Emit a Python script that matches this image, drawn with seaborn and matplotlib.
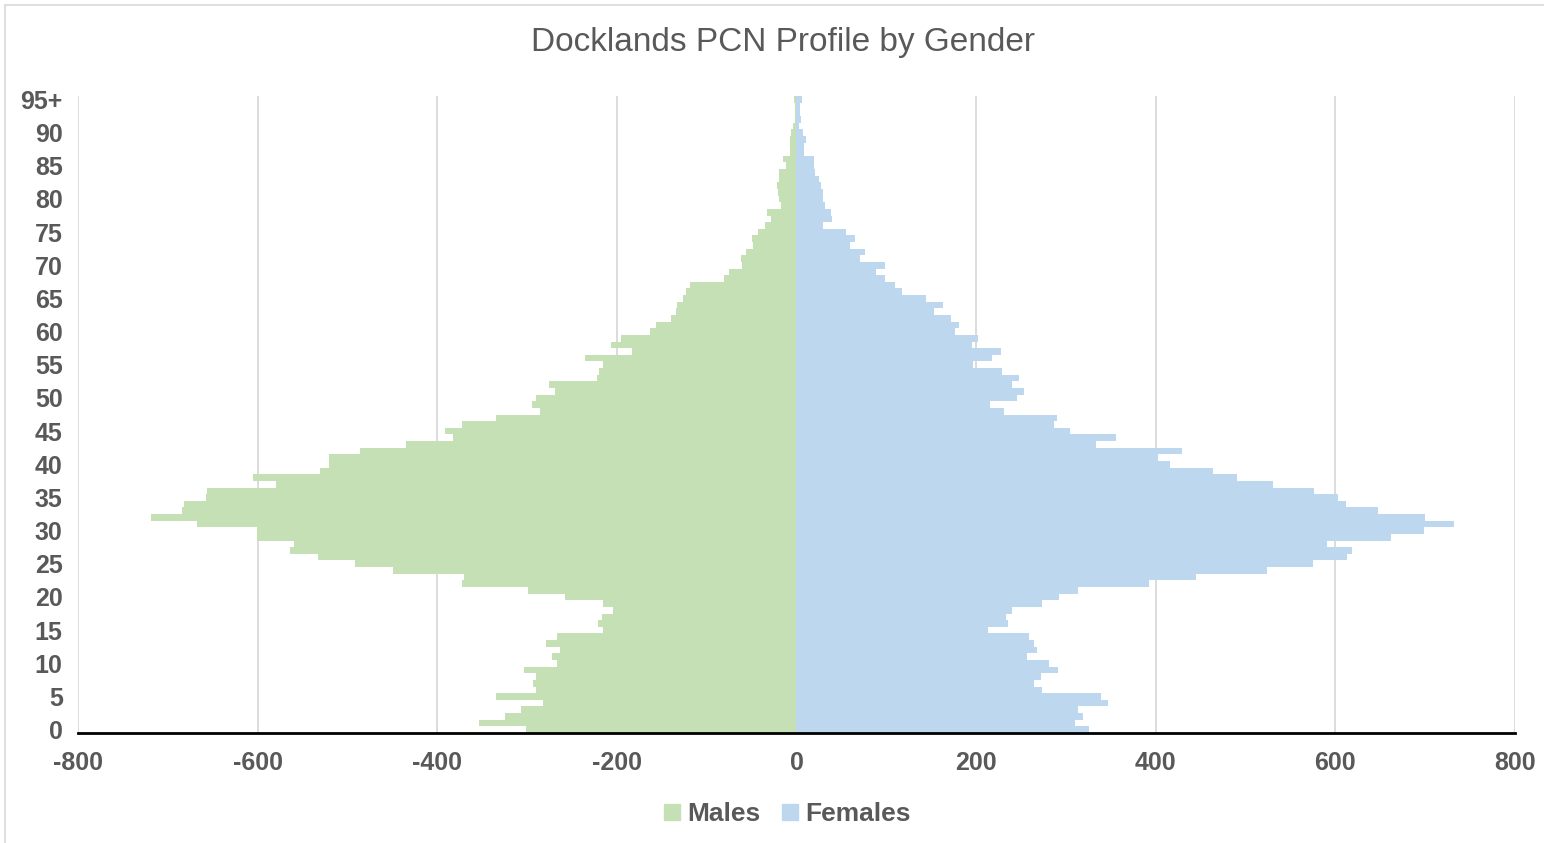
import matplotlib
matplotlib.use('Agg')
import matplotlib.pyplot as plt
import numpy as np
import pandas as pd
import seaborn as sns

# single-year age bands, 0 .. 95+
AGE_LABELS = [str(a) for a in range(95)] + ['95+']

MALES = [301, 353, 325, 307, 282, 335, 290, 293, 290, 303,
         267, 272, 263, 279, 267, 215, 221, 217, 204, 215,
         258, 299, 372, 370, 449, 492, 533, 564, 559, 601,
         601, 667, 719, 684, 682, 657, 656, 580, 605, 531,
         520, 520, 486, 435, 382, 391, 372, 334, 286, 294,
         290, 269, 276, 222, 220, 215, 236, 183, 207, 195,
         163, 156, 140, 134, 133, 126, 123, 119, 81, 75,
         61, 62, 56, 48, 49, 43, 35, 28, 33, 17,
         19, 21, 22, 20, 19, 12, 15, 7, 7, 7,
         6, 4, 2, 2, 2, 3]

FEMALES = [326, 310, 319, 313, 347, 339, 273, 264, 272, 291,
           281, 257, 268, 264, 259, 213, 236, 233, 240, 273,
           292, 313, 393, 445, 524, 575, 613, 618, 591, 662,
           699, 732, 700, 647, 612, 603, 576, 531, 490, 464,
           416, 402, 429, 334, 356, 305, 287, 290, 231, 216,
           246, 253, 240, 248, 229, 197, 218, 228, 195, 202,
           176, 181, 172, 153, 163, 144, 117, 110, 99, 89,
           99, 71, 76, 60, 65, 55, 30, 40, 38, 32,
           30, 29, 27, 25, 21, 19, 19, 8, 8, 11,
           7, 3, 5, 4, 4, 6]

X_TICKS = [-800, -600, -400, -200, 0, 200, 400, 600, 800]
Y_TICK_LABELS = ['0', '5', '10', '15', '20', '25', '30', '35', '40', '45',
                 '50', '55', '60', '65', '70', '75', '80', '85', '90', '95+']

COLORS = {'Males': '#C5E0B4', 'Females': '#BDD7EE'}
TEXT_GREY = '#595959'

sns.set_style('white')
plt.rcParams['font.family'] = ['Liberation Sans', 'DejaVu Sans']

df = pd.concat([
    pd.DataFrame({'age': AGE_LABELS, 'value': -np.array(MALES), 'sex': 'Males'}),
    pd.DataFrame({'age': AGE_LABELS, 'value': np.array(FEMALES), 'sex': 'Females'}),
])

fig = plt.figure(figsize=(15.44, 8.43), dpi=100)
ax = fig.add_axes([0.0505, 0.1305, 0.9307, 0.7555])

order = AGE_LABELS[::-1]  # 95+ at the top
sns.barplot(data=df, y='age', x='value', hue='sex', order=order,
            hue_order=['Males', 'Females'], palette=COLORS, orient='h',
            dodge=False, width=1.0, saturation=1, linewidth=0,
            legend=False, ax=ax, zorder=2)

ax.set_xlim(-800, 800)
ax.set_ylim(len(order) - 0.5, -0.5)
ax.set_xticks(X_TICKS)
ax.set_xticklabels([str(t) for t in X_TICKS])
ax.set_yticks([order.index(l) for l in Y_TICK_LABELS])
ax.set_yticklabels(Y_TICK_LABELS)
ax.set_xlabel('')
ax.set_ylabel('')

ax.grid(axis='x', color='#d9d9d9', linewidth=1.3, zorder=0)
ax.grid(axis='y', visible=False)
ax.set_axisbelow(True)
for side in ['top', 'right', 'left']:
    ax.spines[side].set_visible(False)
ax.spines['bottom'].set_color('black')
ax.spines['bottom'].set_linewidth(2)
ax.spines['bottom'].set_zorder(3)

ax.tick_params(axis='both', length=0, labelsize=18, labelcolor=TEXT_GREY)
ax.tick_params(axis='x', pad=13)
ax.tick_params(axis='y', pad=11)
for lab in ax.get_xticklabels() + ax.get_yticklabels():
    lab.set_fontweight('bold')

fig.text(0.507, 0.95, 'Docklands PCN Profile by Gender', ha='center', va='center',
         fontsize=24, color=TEXT_GREY)

handles = [plt.Rectangle((0, 0), 1, 1, color=COLORS[k]) for k in ['Males', 'Females']]
leg = fig.legend(handles, ['Males', 'Females'], loc='center', bbox_to_anchor=(0.51, 0.034),
                 ncol=2, frameon=False, handlelength=0.6, handleheight=0.6,
                 handletextpad=0.3, columnspacing=0.8,
                 prop={'size': 19, 'weight': 'bold'})
for t in leg.get_texts():
    t.set_color(TEXT_GREY)

# chart-area border (top and left edges visible in the original)
fig.add_artist(plt.Line2D([0.003, 1], [0.994, 0.994], color='#d9d9d9', linewidth=1.2))
fig.add_artist(plt.Line2D([0.003, 0.003], [0, 0.994], color='#d9d9d9', linewidth=1.2))

fig.savefig('out.png', dpi=100)
plt.close(fig)
